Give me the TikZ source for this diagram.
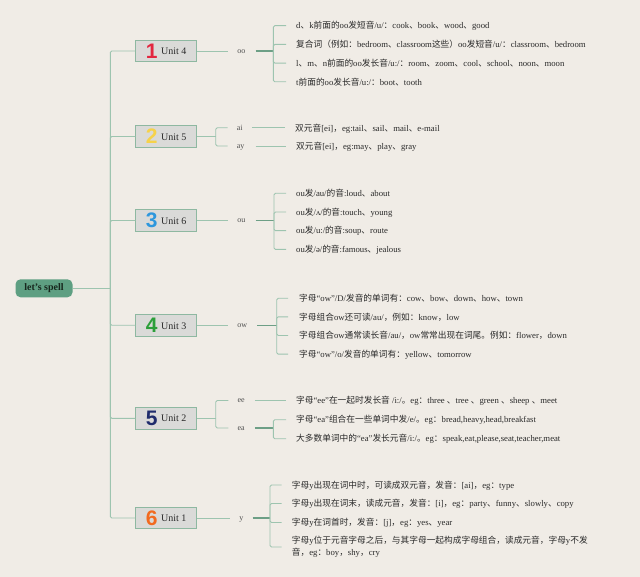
\documentclass[tikz,border=0pt]{standalone}
\usepackage{fontspec}
\setmainfont{Liberation Serif}
\newfontfamily\cjk{Noto Sans CJK SC}
\newfontfamily\digitfont{Liberation Sans}
\usetikzlibrary{positioning}
\definecolor{clrbg}{HTML}{F0ECE6}
\definecolor{clrtext}{HTML}{2A2A2A}
\definecolor{clrkey}{HTML}{505050}
\definecolor{clrbranch}{HTML}{9DC4AF}
\definecolor{clrstem}{HTML}{6D9F86}
\definecolor{clrboxline}{HTML}{8EB8A1}
\definecolor{clrboxfill}{HTML}{DADAD8}
\definecolor{clrroot}{HTML}{5E9F82}
\definecolor{clrroottext}{HTML}{17261D}
\definecolor{clrone}{HTML}{E3263F}
\definecolor{clrtwo}{HTML}{F6D24A}
\definecolor{clrthree}{HTML}{2D97DD}
\definecolor{clrfour}{HTML}{2C9F3A}
\definecolor{clrfive}{HTML}{1F2C6C}
\definecolor{clrsix}{HTML}{F26A1F}
% Chinese characters switch to the CJK font by themselves
\XeTeXinterchartokenstate=1
\newXeTeXintercharclass\zhclass
\newcount\zhcnt
\zhcnt="3000 \loop\XeTeXcharclass\zhcnt=\zhclass\advance\zhcnt by 1 \ifnum\zhcnt<"3040 \repeat
\zhcnt="4E00 \loop\XeTeXcharclass\zhcnt=\zhclass\advance\zhcnt by 1 \ifnum\zhcnt<"A000 \repeat
\zhcnt="FF00 \loop\XeTeXcharclass\zhcnt=\zhclass\advance\zhcnt by 1 \ifnum\zhcnt<"FFF0 \repeat
\XeTeXcharclass"201C=0 \XeTeXcharclass"201D=0
\XeTeXinterchartoks 0 \zhclass = {\begingroup\cjk}
\XeTeXinterchartoks 4095 \zhclass = {\begingroup\cjk}
\XeTeXinterchartoks \zhclass 0 = {\endgroup}
\XeTeXinterchartoks \zhclass 4095 = {\endgroup}
\newcommand\unitlabel[3]{\raisebox{-1.5pt}{\digitfont\bfseries\fontsize{21}{21}\selectfont\color{#1}#2}\hspace{3.5pt}\raisebox{2pt}{\fontsize{10}{12}\selectfont #3}}
\begin{document}
\begin{tikzpicture}[
    x=1pt, y=-1pt,
    every node/.style={font=\fontsize{8.7}{12}\selectfont, text=clrtext},
    rootbox/.style={fill=clrroot, rounded corners=5pt, minimum width=57pt, minimum height=18pt,
                    inner sep=0pt, font=\bfseries\fontsize{10}{12}\selectfont, text=clrroottext},
    unitbox/.style={draw=clrboxline, fill=clrboxfill, minimum width=61pt, minimum height=21.5pt,
                    inner sep=0pt, line width=0.8pt},
    keylabel/.style={inner sep=0pt, text height=1ex, text depth=0pt, font=\fontsize{8}{9}\selectfont, text=clrkey},
    tip/.style={anchor=west, inner sep=2pt, text height=6.5pt, text depth=0pt},
    tipwrap/.style={anchor=west, inner sep=2pt, align=left},
    branch/.style={draw=clrbranch, line width=0.9pt, rounded corners=1.5pt},
    stem/.style={draw=clrstem, line width=1.2pt},
]
\useasboundingbox (0,0) rectangle (640,577);
\fill[clrbg] (0,0) rectangle (640,577);
\node[rootbox] (root) at (44,288.3) {let's spell};
\coordinate (trunk) at (110.3,288.3);
\node[unitbox] (u_4) at (166.2,51) {\unitlabel{clrone}{1}{Unit 4}};
\node[unitbox] (u_5) at (166.2,136.5) {\unitlabel{clrtwo}{2}{Unit 5}};
\node[unitbox] (u_6) at (166.2,220.5) {\unitlabel{clrthree}{3}{Unit 6}};
\node[unitbox] (u_3) at (166.2,325.3) {\unitlabel{clrfour}{4}{Unit 3}};
\node[unitbox] (u_2) at (166.2,418.3) {\unitlabel{clrfive}{5}{Unit 2}};
\node[unitbox] (u_1) at (166.2,518) {\unitlabel{clrsix}{6}{Unit 1}};
% keys
\node[keylabel, right=40pt of u_4.east] (k_4) {oo};
\node[keylabel, anchor=west] (k_5a) at (236.7,127.8) {ai};
\node[keylabel, anchor=west] (k_5b) at (236.7,146) {ay};
\node[keylabel, right=40pt of u_6.east] (k_6) {ou};
\node[keylabel, right=40pt of u_3.east] (k_3) {ow};
\node[keylabel, anchor=west] (k_2a) at (237.3,400.5) {ee};
\node[keylabel, anchor=west] (k_2b) at (237.3,428) {ea};
\node[keylabel, right=42pt of u_1.east] (k_1) {y};
\coordinate (b_4) at (273.3,51);
\coordinate (b_5) at (215.7,136.5);
\coordinate (b_6) at (274,220.5);
\coordinate (b_3) at (276.7,325.3);
\coordinate (b_2) at (215.7,418.3);
\coordinate (b_2ea) at (273.3,428);
\coordinate (b_1) at (270,518);
% Unit 4
\node[tip] (t_4_1) at (294,25.7) {d、k前面的oo发短音/u/：cook、book、wood、good};
\node[tip, below=18.7pt of t_4_1.west, anchor=west] (t_4_2) {复合词（例如：bedroom、classroom这些）oo发短音/u/：classroom、bedroom};
\node[tip, below=18.7pt of t_4_2.west, anchor=west] (t_4_3) {l、m、n前面的oo发长音/u:/：room、zoom、cool、school、noon、moon};
\node[tip, below=18.7pt of t_4_3.west, anchor=west] (t_4_4) {t前面的oo发长音/u:/：boot、tooth};
% Unit 5
\node[tip] (t_5_1) at (293,127.8) {双元音[ei]，eg:tail、sail、mail、e-mail};
\node[tip] (t_5_2) at (294,146) {双元音[ei]，eg:may、play、gray};
% Unit 6
\node[tip] (t_6_1) at (294,193.3) {ou发/au/的音:loud、about};
\node[tip, below=18.7pt of t_6_1.west, anchor=west] (t_6_2) {ou发/ʌ/的音:touch、young};
\node[tip, below=18.7pt of t_6_2.west, anchor=west] (t_6_3) {ou发/u:/的音:soup、route};
\node[tip, below=18.7pt of t_6_3.west, anchor=west] (t_6_4) {ou发/ə/的音:famous、jealous};
% Unit 3
\node[tip] (t_3_1) at (297,298.3) {字母“ow”/D/发音的单词有：cow、bow、down、how、town};
\node[tip, below=18.6pt of t_3_1.west, anchor=west] (t_3_2) {字母组合ow还可读/au/，例如：know，low};
\node[tip, below=18.6pt of t_3_2.west, anchor=west] (t_3_3) {字母组合ow通常读长音/au/，ow常常出现在词尾。例如：flower，down};
\node[tip, below=18.6pt of t_3_3.west, anchor=west] (t_3_4) {字母“ow”/o/发音的单词有：yellow、tomorrow};
% Unit 2
\node[tip] (t_2_1) at (294,400.5) {字母“ee”在一起时发长音 /i:/。eg：three 、tree 、green 、sheep 、meet};
\node[tip] (t_2_2) at (294,419.7) {字母“ea”组合在一些单词中发/e/。eg：bread,heavy,head,breakfast};
\node[tip, below=19pt of t_2_2.west, anchor=west] (t_2_3) {大多数单词中的“ea”发长元音/i:/。eg：speak,eat,please,seat,teacher,meat};
% Unit 1
\node[tip] (t_1_1) at (289.7,485) {字母y出现在词中时，可读成双元音，发音：[ai]，eg：type};
\node[tip, below=18.5pt of t_1_1.west, anchor=west] (t_1_2) {字母y出现在词末，读成元音，发音：[i]，eg：party、funny、slowly、copy};
\node[tip, below=19pt of t_1_2.west, anchor=west] (t_1_3) {字母y在词首时，发音：[j]，eg：yes、year};
\node[tipwrap] (t_1_4) at (289.7,547) {字母y位于元音字母之后，与其字母一起构成字母组合，读成元音，字母y不发\\音，eg：boy，shy，cry};
% trunk
\draw[branch] (root.east) -- (trunk);
\draw[branch] (trunk) |- (u_4.west);
\draw[branch] (trunk) |- (u_5.west);
\draw[branch] (trunk) |- (u_6.west);
\draw[branch] (trunk) |- (u_3.west);
\draw[branch] (trunk) |- (u_2.west);
\draw[branch] (trunk) |- (u_1.west);
% Unit 4
\draw[branch, shorten >=9pt] (u_4.east) -- (k_4.west);
\draw[stem, shorten <=10pt] (k_4.east) -- (b_4);
\draw[branch] (b_4) |- ([xshift=-8pt]t_4_1.west);
\draw[branch] (b_4) |- ([xshift=-8pt]t_4_2.west);
\draw[branch] (b_4) |- ([xshift=-8pt]t_4_3.west);
\draw[branch] (b_4) |- ([xshift=-8pt]t_4_4.west);
% Unit 5
\draw[branch] (u_5.east) -- (b_5);
\draw[branch] (b_5) |- ([xshift=-9pt]k_5a.west);
\draw[branch] (b_5) |- ([xshift=-9pt]k_5b.west);
\draw[branch, shorten <=9pt] (k_5a.east) -- ([xshift=-8pt]t_5_1.west);
\draw[branch, shorten <=11pt] (k_5b.east) -- ([xshift=-8pt]t_5_2.west);
% Unit 6
\draw[branch, shorten >=9pt] (u_6.east) -- (k_6.west);
\draw[stem, shorten <=10pt] (k_6.east) -- (b_6);
\draw[branch] (b_6) |- ([xshift=-8pt]t_6_1.west);
\draw[branch] (b_6) |- ([xshift=-8pt]t_6_2.west);
\draw[branch] (b_6) |- ([xshift=-8pt]t_6_3.west);
\draw[branch] (b_6) |- ([xshift=-8pt]t_6_4.west);
% Unit 3
\draw[branch, shorten >=9pt] (u_3.east) -- (k_3.west);
\draw[stem, shorten <=10pt] (k_3.east) -- (b_3);
\draw[branch] (b_3) |- ([xshift=-9pt]t_3_1.west);
\draw[branch] (b_3) |- ([xshift=-9pt]t_3_2.west);
\draw[branch] (b_3) |- ([xshift=-9pt]t_3_3.west);
\draw[branch] (b_3) |- ([xshift=-9pt]t_3_4.west);
% Unit 2
\draw[branch] (u_2.east) -- (b_2);
\draw[branch] (b_2) |- ([xshift=-9pt]k_2a.west);
\draw[branch] (b_2) |- ([xshift=-9pt]k_2b.west);
\draw[branch, shorten <=10pt] (k_2a.east) -- ([xshift=-8pt]t_2_1.west);
\draw[stem, shorten <=10pt] (k_2b.east) -- (b_2ea);
\draw[branch] (b_2ea) |- ([xshift=-8pt]t_2_2.west);
\draw[branch] (b_2ea) |- ([xshift=-8pt]t_2_3.west);
% Unit 1
\draw[branch, shorten >=9pt] (u_1.east) -- (k_1.west);
\draw[stem, shorten <=9pt] (k_1.east) -- (b_1);
\draw[branch] (b_1) |- ([xshift=-8pt]t_1_1.west);
\draw[branch] (b_1) |- ([xshift=-8pt]t_1_2.west);
\draw[branch] (b_1) |- ([xshift=-8pt]t_1_3.west);
\draw[branch] (b_1) |- ([xshift=-8pt]t_1_4.west);
\end{tikzpicture}
\end{document}
